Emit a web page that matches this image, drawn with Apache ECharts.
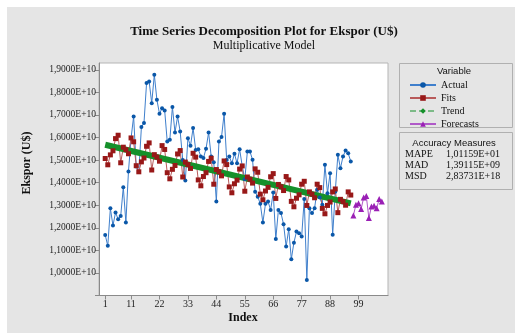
<!DOCTYPE html>
<html><head><meta charset="utf-8">
<script src="https://cdn.jsdelivr.net/npm/echarts@6/dist/echarts.min.js"></script>
<style>html,body{margin:0;padding:0;background:#fff}#c{width:515px;height:333px}</style>
</head><body><div id="c"></div>
<script>
// values in units of 1E9 US$
const xTickLabels = [1, 11, 22, 33, 44, 55, 66, 77, 88, 99];
const actual = [
  11.68, 11.20, 12.86, 12.10, 12.68, 12.38, 12.52, 13.80, 12.23, 14.49,
  15.97, 16.93, 14.71, 14.47, 16.46, 16.64, 18.41, 18.48, 17.52, 18.78,
  17.67, 17.05, 17.30, 17.20, 15.82, 15.90, 17.35, 16.22, 16.93, 16.27,
  15.00, 14.09, 15.97, 15.63, 16.42, 15.45, 15.48, 15.16, 15.09, 15.50,
  16.22, 15.16, 14.90, 13.16, 15.82, 16.02, 17.05, 15.00, 15.16, 14.86,
  15.28, 14.86, 15.48, 14.74, 14.15, 15.38, 15.38, 15.01, 13.60, 13.38,
  13.06, 12.23, 13.06, 13.16, 12.79, 13.56, 11.50, 12.79, 12.65, 12.16,
  11.17, 11.94, 10.61, 11.34, 11.83, 11.76, 11.61, 13.27, 9.69, 12.87,
  12.65, 12.87, 13.68, 13.34, 13.02, 14.79, 13.53, 14.42, 11.69, 13.60,
  15.23, 14.64, 15.16, 15.42, 15.30, 14.94
];
const fits = [
  15.07, 14.79, 15.23, 15.41, 15.95, 16.10, 14.88, 15.57, 15.46, 15.28, 15.98, 15.81,
  14.75, 14.48, 14.92, 15.09, 15.61, 15.76, 14.56, 15.24, 15.13, 14.95, 15.64, 15.47,
  14.44, 14.17, 14.59, 14.76, 15.27, 15.42, 14.25, 14.91, 14.80, 14.63, 15.30, 15.13,
  14.12, 13.86, 14.27, 14.44, 14.94, 15.08, 13.93, 14.58, 14.48, 14.30, 14.96, 14.80,
  13.81, 13.55, 13.95, 14.11, 14.60, 14.74, 13.62, 14.25, 14.15, 13.98, 14.61, 14.46,
  13.49, 13.24, 13.63, 13.79, 14.26, 14.40, 13.30, 13.92, 13.82, 13.65, 14.27, 14.12,
  13.17, 12.93, 13.31, 13.46, 13.93, 14.06, 12.99, 13.59, 13.49, 13.33, 13.93, 13.78,
  12.86, 12.62, 12.99, 13.14, 13.59, 13.72, 12.67, 13.26, 13.16, 13.00, 13.59, 13.45
];
const trendIndex = [1, 96];
const trendValues = [15.68, 13.08];
const forecastStart = 97;
const forecasts = [12.54, 13.02, 13.09, 12.83, 13.34, 13.41, 12.43, 12.94, 12.98, 12.87, 13.27, 13.16];
const accuracyNames = ['MAPE', 'MAD', 'MSD'];
const accuracyValues = ['1,01159E+01', '1,39115E+09', '2,83731E+18'];

const serif = 'Liberation Serif';
const pairs = (arr, start) => arr.map((v, k) => [start + k, v]);

const chart = echarts.init(document.getElementById('c'), null, {renderer: 'canvas'});
const accGraphics = [];
accuracyNames.forEach((n, k) => {
  accGraphics.push({type: 'text', x: 405, y: 154 + k * 11.3, style: {text: n, font: '10px ' + serif, fill: '#111', textVerticalAlign: 'middle'}});
  accGraphics.push({type: 'text', x: 446, y: 154 + k * 11.3, style: {text: accuracyValues[k], font: '10px ' + serif, fill: '#111', textVerticalAlign: 'middle'}});
});

chart.setOption({
  backgroundColor: '#e5e5e5',
  animation: false,
  grid: {left: 99, top: 63, width: 289, height: 232.5, show: true, backgroundColor: '#fff', borderColor: '#b5b5b5', borderWidth: 1},
  xAxis: {
    type: 'value', min: -1.4, max: 110.4,
    axisLine: {show: true, onZero: false, lineStyle: {color: '#8a8a8a'}},
    axisTick: {show: true, length: 4, lineStyle: {color: '#8a8a8a'}, customValues: xTickLabels},
    axisLabel: {customValues: xTickLabels, fontFamily: serif, fontSize: 10, color: '#222', margin: 4},
    splitLine: {show: false}
  },
  yAxis: {
    type: 'value', min: 9, max: 19.3, interval: 1,
    axisLine: {show: true, onZero: false, lineStyle: {color: '#8a8a8a'}},
    axisTick: {show: true, length: 4, lineStyle: {color: '#8a8a8a'}},
    axisLabel: {fontFamily: serif, fontSize: 9.5, color: '#222', margin: 3,
      formatter: v => v < 9.5 ? '' : (v / 10).toFixed(4).replace('.', ',') + 'E+10'},
    splitLine: {show: false}
  },
  legend: {
    orient: 'vertical', left: 404, top: 74, itemWidth: 26, itemHeight: 7, itemGap: 1,
    textStyle: {fontFamily: serif, fontSize: 10, color: '#111', lineHeight: 12},
    data: [
      {name: 'Actual'},
      {name: 'Fits'},
      {name: 'Trend', lineStyle: {width: 1, type: [6, 3]}},
      {name: 'Forecasts'}
    ]
  },
  series: [
    {name: 'Actual', type: 'line', data: pairs(actual, 1), symbol: 'circle', symbolSize: 4,
      lineStyle: {color: '#3f7fcc', width: 1}, itemStyle: {color: '#0a57a8'}},
    {name: 'Fits', type: 'line', data: pairs(fits, 1), symbol: 'rect', symbolSize: 5,
      lineStyle: {color: '#b85a5a', width: 1}, itemStyle: {color: '#981818'}},
    {name: 'Trend', type: 'line', data: trendIndex.map((x, k) => [x, trendValues[k]]), symbol: 'diamond', symbolSize: 7, showSymbol: false,
      lineStyle: {color: '#15902a', width: 6}, itemStyle: {color: '#15902a'}},
    {name: 'Forecasts', type: 'line', data: pairs(forecasts, forecastStart), symbol: 'triangle', symbolSize: 6,
      lineStyle: {color: '#b05ac8', width: 1}, itemStyle: {color: '#9a1fb5'}}
  ],
  graphic: [
    {type: 'rect', shape: {x: 0, y: 0, width: 515, height: 7}, style: {fill: '#fff'}, z: 100},
    {type: 'rect', shape: {x: 0, y: 0, width: 7, height: 333}, style: {fill: '#fff'}, z: 100},
    {type: 'text', x: 264, y: 32, style: {text: 'Time Series Decomposition Plot for Ekspor (U$)', font: 'bold 13px ' + serif, fill: '#111', textAlign: 'center', textVerticalAlign: 'middle'}},
    {type: 'text', x: 264, y: 46, style: {text: 'Multiplicative Model', font: '12px ' + serif, fill: '#111', textAlign: 'center', textVerticalAlign: 'middle'}},
    {type: 'text', x: 27, y: 163, rotation: Math.PI / 2, style: {text: 'Ekspor (U$)', font: 'bold 12px ' + serif, fill: '#111', textAlign: 'center', textVerticalAlign: 'middle'}},
    {type: 'text', x: 243, y: 318, style: {text: 'Index', font: 'bold 12px ' + serif, fill: '#111', textAlign: 'center', textVerticalAlign: 'middle'}},
    {type: 'rect', shape: {x: 399.5, y: 63.5, width: 113, height: 64}, style: {fill: 'none', stroke: '#b0b0b0', lineWidth: 1}},
    {type: 'text', x: 454, y: 71, style: {text: 'Variable', font: '9.5px Liberation Sans', fill: '#111', textAlign: 'center', textVerticalAlign: 'middle'}},
    {type: 'rect', shape: {x: 399.5, y: 132.5, width: 113, height: 57}, style: {fill: 'none', stroke: '#b0b0b0', lineWidth: 1}},
    {type: 'text', x: 454, y: 143, style: {text: 'Accuracy Measures', font: '9.5px Liberation Sans', fill: '#111', textAlign: 'center', textVerticalAlign: 'middle'}}
  ].concat(accGraphics)
});
</script></body></html>
